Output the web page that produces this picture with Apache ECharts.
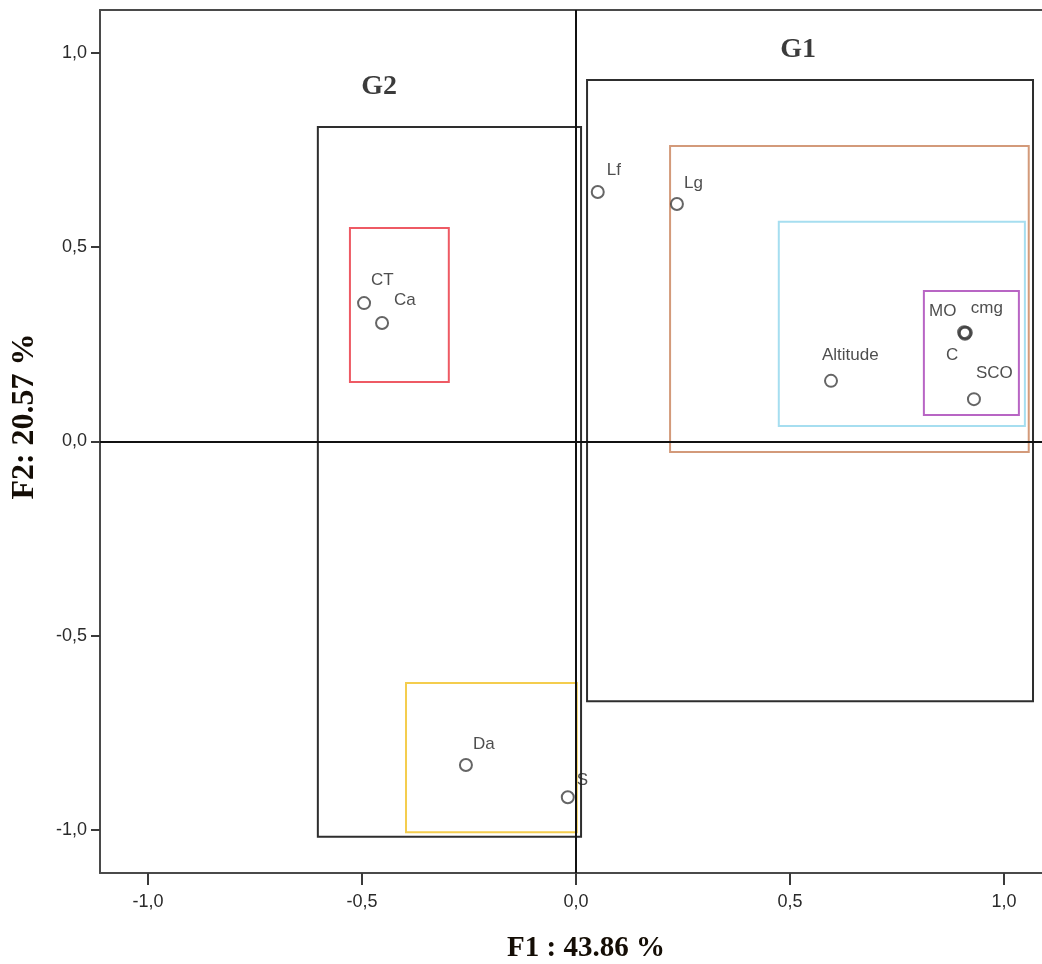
<!DOCTYPE html>
<html>
<head>
<meta charset="utf-8">
<script src="https://cdn.jsdelivr.net/npm/echarts@6/dist/echarts.min.js"></script>
<style>
  html, body { margin: 0; padding: 0; background: #ffffff; }
  #chart { width: 1042px; height: 964px; }
</style>
</head>
<body>
<div id="chart"></div>
<script>
// ---- Data ----
const varNames = ['Lf', 'Lg', 'CT', 'Ca', 'Altitude', 'MO', 'cmg', 'C', 'SCO', 'Da', 'S'];
const varF1 = [0.051, 0.236, -0.495, -0.453, 0.596, 0.907, 0.911, 0.909, 0.930, -0.257, -0.019];
const varF2 = [0.642, 0.611, 0.356, 0.305, 0.156, 0.281, 0.280, 0.277, 0.109, -0.832, -0.915];

const groupNames = ['G1', 'G2'];
const groupF1 = [0.519, -0.460];
const groupF2 = [1.008, 0.912];

const boxNames = ['G2', 'G1', 'red', 'orange', 'cyan', 'purple', 'yellow'];
const boxX0 = [-0.603, 0.026, -0.528, 0.220, 0.474, 0.813, -0.397];
const boxX1 = [0.012, 1.068, -0.297, 1.058, 1.049, 1.035, 0.002];
const boxY0 = [-1.017, -0.668, 0.153, -0.027, 0.040, 0.068, -1.005];
const boxY1 = [0.809, 0.930, 0.549, 0.760, 0.565, 0.387, -0.621];

const tickValues = [-1.0, -0.5, 0.0, 0.5, 1.0];
const xTitle = 'F1 : 43.86 %';
const yTitle = 'F2: 20.57 %';

// ---- Styles (kept apart from the data) ----
const boxColors = ['#2e2e2e', '#2e2e2e', '#ee5a64', '#d39a7a', '#a6def0', '#b865c4', '#f4cd4e'];
const labelOffsets = {
  'Lf': [2, -22], 'Lg': [0, -21], 'CT': [0, -23], 'Ca': [5, -23],
  'Altitude': [-16, -26], 'MO': [-42, -21], 'cmg': [-2, -24], 'C': [-26, 21],
  'SCO': [-5, -26], 'Da': [0, -21], 'S': [2, -17]
};

const fmt = v => v.toFixed(1).replace('.', ',');
const xMin = -1.112, xMax = 1.089, yMin = -1.11, yMax = 1.11;

const chart = echarts.init(document.getElementById('chart'), null, { renderer: 'canvas' });

const pointData = varNames.map((n, i) => ({
  name: n,
  value: [varF1[i], varF2[i]],
  label: { offset: labelOffsets[n] }
}));

const groupData = groupNames.map((n, i) => ({ name: n, value: [groupF1[i], groupF2[i]] }));

const areaData = boxNames.map((n, i) => ([
  { name: n, xAxis: boxX0[i], yAxis: boxY1[i],
    itemStyle: { color: 'rgba(0,0,0,0)', borderColor: boxColors[i], borderWidth: 2 } },
  { xAxis: boxX1[i], yAxis: boxY0[i] }
]));

const option = {
  animation: false,
  backgroundColor: '#ffffff',
  grid: { left: 100, top: 10, right: 0, bottom: 91, containLabel: false, outerBoundsMode: 'none' },
  xAxis: [{
    type: 'value', min: xMin, max: xMax, position: 'bottom',
    name: xTitle, nameLocation: 'middle', nameGap: 61,
    nameTextStyle: { fontFamily: 'Liberation Serif', fontWeight: 'bold', fontSize: 29, color: '#140d05', padding: [0, 0, 0, 30] },
    axisLine: { show: true, onZero: false, lineStyle: { color: '#4a4a4a', width: 2 } },
    axisTick: { show: true, length: 12, customValues: tickValues, lineStyle: { color: '#3a3a3a', width: 2 } },
    axisLabel: { show: true, customValues: tickValues, margin: 20, formatter: fmt,
      fontFamily: 'Liberation Sans', fontSize: 18, color: '#2a2a2a' },
    splitLine: { show: false }
  }, {
    type: 'value', min: xMin, max: xMax, position: 'top',
    axisLine: { show: true, onZero: false, lineStyle: { color: '#4a4a4a', width: 2 } },
    axisTick: { show: false }, axisLabel: { show: false }, splitLine: { show: false }
  }],
  yAxis: {
    type: 'value', min: yMin, max: yMax,
    name: yTitle, nameLocation: 'middle', nameGap: 59, nameRotate: 90,
    nameTextStyle: { fontFamily: 'Liberation Serif', fontWeight: 'bold', fontSize: 32, color: '#140d05', padding: [0, 0, 0, 50] },
    axisLine: { show: true, onZero: false, lineStyle: { color: '#4a4a4a', width: 2 } },
    axisTick: { show: true, length: 9, customValues: tickValues, lineStyle: { color: '#3a3a3a', width: 2 } },
    axisLabel: { show: true, customValues: tickValues, margin: 13, formatter: fmt,
      fontFamily: 'Liberation Sans', fontSize: 18, color: '#2a2a2a' },
    splitLine: { show: false }
  },
  series: [
    {
      name: 'boxes', type: 'scatter', data: [], silent: true,
      markArea: { silent: true, label: { show: false }, data: areaData }
    },
    {
      name: 'zero', type: 'scatter', data: [], silent: true,
      markLine: {
        silent: true, symbol: ['none', 'none'], label: { show: false },
        lineStyle: { color: '#111111', width: 2, type: 'solid' },
        data: [{ xAxis: 0 }, { yAxis: 0 }]
      }
    },
    {
      name: 'groups', type: 'scatter', symbolSize: 0, data: groupData, silent: true,
      label: { show: true, position: 'inside', formatter: '{b}',
        fontFamily: 'Liberation Serif', fontWeight: 'bold', fontSize: 28, color: '#0a0a0a' }
    },
    {
      name: 'variables', type: 'scatter', data: pointData, symbol: 'circle', symbolSize: 12,
      itemStyle: { color: 'rgba(255,255,255,0)', borderColor: '#3e3e3e', borderWidth: 2 },
      label: { show: true, position: 'right', distance: 0, formatter: '{b}',
        fontFamily: 'Liberation Sans', fontSize: 17, color: '#222222' },
      z: 5
    }
  ]
};
chart.setOption(option);
</script>
</body>
</html>
